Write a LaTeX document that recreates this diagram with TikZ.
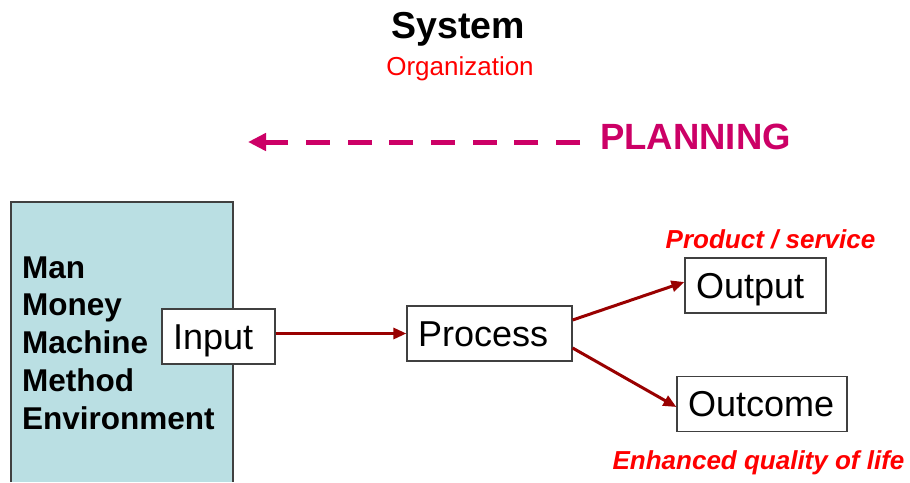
\documentclass[tikz,border=0pt]{standalone}
\usepackage{fontspec}
\setmainfont{Liberation Sans}
\usetikzlibrary{arrows.meta}
\definecolor{resteal}{RGB}{186,223,227}
\definecolor{planmagenta}{RGB}{204,0,102}
\definecolor{flowred}{RGB}{153,0,0}
\definecolor{notered}{RGB}{255,0,0}
\tikzset{
    stepbox/.style={
        draw=black!75,
        fill=white,
        line width=1.2pt,
        align=left,
        inner xsep=11pt,
        inner ysep=0pt,
        minimum height=55pt,
        text height=25.8pt,
        text depth=0pt,
        font=\fontsize{36}{40}\selectfont},
    flow/.style={
        draw=flowred,
        line width=3pt,
        -{Triangle[length=13pt,width=11pt]}},
    planline/.style={
        draw=planmagenta,
        line width=5pt,
        dash pattern=on 24pt off 17.7pt,
        -{Triangle[length=18pt,width=17pt]}},
    resource/.style={
        anchor=base west,
        inner sep=0pt,
        font=\fontsize{31.5}{34}\selectfont\bfseries},
    note/.style={
        anchor=base,
        inner sep=0pt,
        text=notered,
        font=\fontsize{26}{28}\selectfont\bfseries\itshape}
}

\begin{document}
\begin{tikzpicture}[x=1pt, y=-1pt]

\path [use as bounding box, fill=white] (0,0) rectangle (910,482);

% headings
\node [anchor=base, inner sep=0pt, font=\fontsize{37.5}{40}\selectfont\bfseries] 
    (system) at (458.5,38) {System};
\node [anchor=base, inner sep=0pt, text=notered, font=\fontsize{26}{28}\selectfont] 
    (organization) at (460,75) {Organization};
\node [anchor=base west, inner sep=0pt, text=planmagenta, font=\fontsize{36.5}{40}\selectfont\bfseries] 
    (planning) at (600,149) {PLANNING};
\coordinate (plan-start) at (580,142);
\coordinate (plan-tip) at (248,142);
\draw [planline] (plan-start) -- (plan-tip);

% resources
\fill [resteal] (11,202) rectangle (233,482);
\draw [draw=black!75, line width=1.2pt] (11,482) |- (233,202) -- (233,482);
\foreach \w [count=\i] in {Man, Money, Machine, Method, Environment}{
    \node [resource] (resource-\i) at (22,{278+37.8*(\i-1)}) {\w};
}

% flow
\node [stepbox, text width=91pt] (input) at (218.5,336.5) {Input};
\node [stepbox, text width=143pt] (process) at (489.5,333.5) {Process};
\node [stepbox, text width=119pt] (output) at (755.5,285.5) {Output};
\node [stepbox, text width=148pt] (outcome) at (762,404) {Outcome};

\draw [flow] (input.east |- process.west) -- (process.west);
\draw [flow] ([yshift=13.5pt]process.east) -- ([yshift=3.5pt]output.west);
\draw [flow] ([yshift=-14.5pt]process.east) -- ([yshift=-3pt]outcome.west);

\node [note] (product) at (770.5,248) {Product / service};
\node [note] (quality) at (758.5,469) {Enhanced quality of life};

\end{tikzpicture}
\end{document}
